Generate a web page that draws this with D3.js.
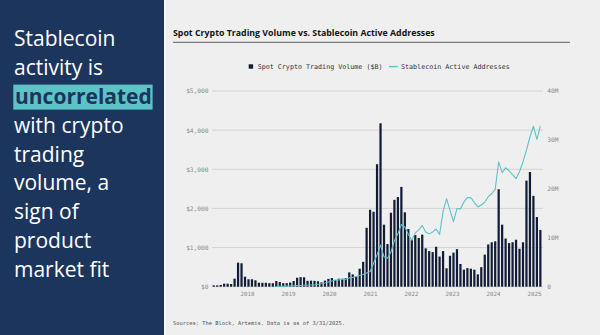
<!DOCTYPE html>
<html>
<head>
<meta charset="utf-8">
<script src="https://cdn.jsdelivr.net/npm/d3@7"></script>
<style>
  html, body { margin: 0; padding: 0; background: #efefef; }
  svg { display: block; }
</style>
</head>
<body>
<svg id="chart" width="600" height="335"></svg>
<script>
// Monthly series, May 2017 – Mar 2025
const startMonth = new Date(2017, 4, 1);
const monthCount = 95;

// Spot crypto trading volume, $B per month
const spotVolume = [
  35, 35, 45, 77, 77, 68, 205, 614,            // 2017 May–Dec
  598, 256, 189, 190, 164, 103, 100, 100, 90, 90, 145, 120,   // 2018
  90, 90, 105, 145, 230, 245, 240, 150, 155, 150, 140, 110,   // 2019
  155, 200, 220, 170, 205, 190, 220, 365, 315, 265, 460, 635, // 2020
  1505, 1965, 1915, 3130, 4175, 1585, 1090, 1890, 2220, 2290, 2550, 1900, // 2021
  1472, 1200, 1320, 1245, 1330, 980, 910, 885, 1020, 770, 910, 470,       // 2022
  790, 870, 960, 580, 435, 475, 460, 435, 315, 500, 820, 1080,            // 2023
  1135, 1160, 2490, 1585, 1230, 1115, 1135, 1200, 970, 1135, 2710, 2930,  // 2024
  2320, 1780, 1450                                                         // 2025 Jan–Mar
];

// Stablecoin active addresses, millions per month (series begins Nov 2018)
const activeAddressesStart = 18;
const activeAddresses = [
  0.05, 0.08,                                                        // 2018 Nov–Dec
  0.10, 0.12, 0.15, 0.20, 0.22, 0.25, 0.30, 0.30, 0.35, 0.40, 0.50, 0.60, // 2019
  0.75, 0.95, 1.15, 1.35, 1.40, 1.60, 1.55, 1.80, 1.90, 2.10, 2.30, 2.50, // 2020
  2.8, 3.1, 4.8, 6.5, 8.5, 6.1, 5.8, 7.1, 9.4, 10.8, 12.7, 12.2,          // 2021
  10.7, 9.5, 11.0, 11.6, 12.5, 11.2, 10.8, 11.2, 11.8, 10.7, 15.4, 18.0,  // 2022
  15.6, 13.3, 16.0, 15.9, 17.3, 18.2, 18.2, 17.2, 16.3, 16.7, 17.3, 18.4, // 2023
  19.0, 19.9, 25.5, 23.3, 24.3, 23.7, 22.9, 22.1, 23.5, 25.5, 27.9, 30.6, // 2024
  32.8, 30.1, 32.8                                                         // 2025 Jan–Mar
];

const leftTicks = [0, 1000, 2000, 3000, 4000, 5000];
const rightTicks = [0, 10, 20, 30, 40];
const yearTicks = [2018, 2019, 2020, 2021, 2022, 2023, 2024, 2025];

const headline = ["Stablecoin", "activity is", "uncorrelated", "with crypto", "trading", "volume, a", "sign of", "product", "market fit"];
const highlightWord = "uncorrelated";

const titleText = "Spot Crypto Trading Volume vs. Stablecoin Active Addresses";
const legendBars = "Spot Crypto Trading Volume ($B)";
const legendLine = "Stablecoin Active Addresses";
const sourceText = "Sources: The Block, Artemis. Data is as of 3/31/2025.";

// ---- derived tables
const months = d3.range(monthCount).map(i => d3.timeMonth.offset(startMonth, i));
const bars = months.map((m, i) => ({ month: m, value: spotVolume[i] }));
const linePts = activeAddresses.map((v, k) => ({ month: months[activeAddressesStart + k], value: v }));

const NAVY = "#1c355d";
const TEAL = "#5cc3c6";
const BAR = "#111c36";
const MONO = "'DejaVu Sans Mono', 'Liberation Mono', monospace";

const svg = d3.select("#chart");

// ---- left panel
svg.append("rect").attr("x", 0).attr("y", 0).attr("width", 164).attr("height", 335).attr("fill", NAVY);
svg.append("rect").attr("x", 164).attr("y", 0).attr("width", 2).attr("height", 335).attr("fill", "#f6f6f6");

const lead = svg.append("g").attr("font-family", "'Open Sans', sans-serif").attr("font-size", 21);
headline.forEach((line, i) => {
  const yBase = 45.7 + i * 28.95;
  if (line === highlightWord) {
    const t = lead.append("text").attr("x", 15).attr("y", yBase)
      .attr("font-weight", 700).attr("fill", NAVY).text(line);
    const w = t.node().getComputedTextLength();
    lead.insert("rect", () => t.node())
      .attr("x", 13.3).attr("y", yBase - 19).attr("width", w + 2.5).attr("height", 25)
      .attr("fill", TEAL);
  } else {
    lead.append("text").attr("x", 14).attr("y", yBase).attr("fill", "#ffffff").text(line);
  }
});

// ---- chart title and rule
svg.append("text").attr("x", 173).attr("y", 36)
  .attr("font-family", "'Open Sans', sans-serif").attr("font-weight", 700)
  .attr("font-size", 8.8).attr("fill", "#141414").text(titleText);
svg.append("line").attr("x1", 173).attr("x2", 570).attr("y1", 42.3).attr("y2", 42.3)
  .attr("stroke", "#7a7a7a").attr("stroke-width", 1.2);

// ---- legend
const lg = svg.append("g").attr("font-family", MONO).attr("font-size", 6.7).attr("fill", "#333");
lg.append("rect").attr("x", 248.7).attr("y", 64.3).attr("width", 4.4).attr("height", 4.4).attr("fill", BAR);
lg.append("text").attr("x", 257.7).attr("y", 69).text(legendBars);
lg.append("line").attr("x1", 389).attr("x2", 397.7).attr("y1", 66.6).attr("y2", 66.6)
  .attr("stroke", TEAL).attr("stroke-width", 1.4);
lg.append("text").attr("x", 401).attr("y", 69).text(legendLine);

// ---- scales
const x = d3.scaleBand().domain(months).range([212, 542.1]).paddingInner(0.36).paddingOuter(0.18);
const yL = d3.scaleLinear().domain([0, 5000]).range([286.7, 91]);
const yR = d3.scaleLinear().domain([0, 40]).range([286.7, 91]);
const xYear = d3.scaleTime().domain([startMonth, d3.timeMonth.offset(startMonth, monthCount)]).range([219.5, 544.1]);

// ---- gridlines
svg.append("g").selectAll("line").data(leftTicks).join("line")
  .attr("x1", 211.7).attr("x2", 543)
  .attr("y1", d => yL(d)).attr("y2", d => yL(d))
  .attr("stroke", "#d3d3d3").attr("stroke-width", 1);

// ---- axes
const axisLeft = d3.axisLeft(yL).tickValues(leftTicks).tickSize(0).tickPadding(0)
  .tickFormat(d => "$" + d3.format(",")(d));
svg.append("g").attr("transform", "translate(208.5,0)").call(axisLeft)
  .call(g => g.select(".domain").remove())
  .call(g => g.selectAll("text").attr("font-family", MONO).attr("font-size", 6.2).attr("fill", "#8a8a8a"));

const axisRight = d3.axisRight(yR).tickValues(rightTicks).tickSize(0).tickPadding(0)
  .tickFormat(d => d === 0 ? "0" : d + "M");
svg.append("g").attr("transform", "translate(547.3,0)").call(axisRight)
  .call(g => g.select(".domain").remove())
  .call(g => g.selectAll("text").attr("font-family", MONO).attr("font-size", 6.2).attr("fill", "#8a8a8a"));

const axisBottom = d3.axisBottom(xYear).tickValues(yearTicks.map(yv => new Date(yv, 0, 1)))
  .tickSize(0).tickPadding(0).tickFormat(d3.timeFormat("%Y"));
svg.append("g").attr("transform", "translate(0,291.5)").call(axisBottom)
  .call(g => g.select(".domain").remove())
  .call(g => g.selectAll("text").attr("font-family", MONO).attr("font-size", 5.8).attr("fill", "#8a8a8a"));

// ---- bars
svg.append("g").selectAll("rect").data(bars).join("rect")
  .attr("x", d => x(d.month)).attr("width", x.bandwidth())
  .attr("y", d => yL(d.value)).attr("height", d => yL(0) - yL(d.value))
  .attr("fill", BAR);

// ---- line
const line = d3.line().x(d => x(d.month) + x.bandwidth() / 2).y(d => yR(d.value));
svg.append("path").datum(linePts).attr("d", line)
  .attr("fill", "none").attr("stroke", TEAL).attr("stroke-width", 1.1).attr("stroke-linejoin", "round");

// ---- source note
svg.append("text").attr("x", 173).attr("y", 324.5)
  .attr("font-family", MONO).attr("font-size", 5.4).attr("fill", "#555").text(sourceText);
</script>
</body>
</html>
